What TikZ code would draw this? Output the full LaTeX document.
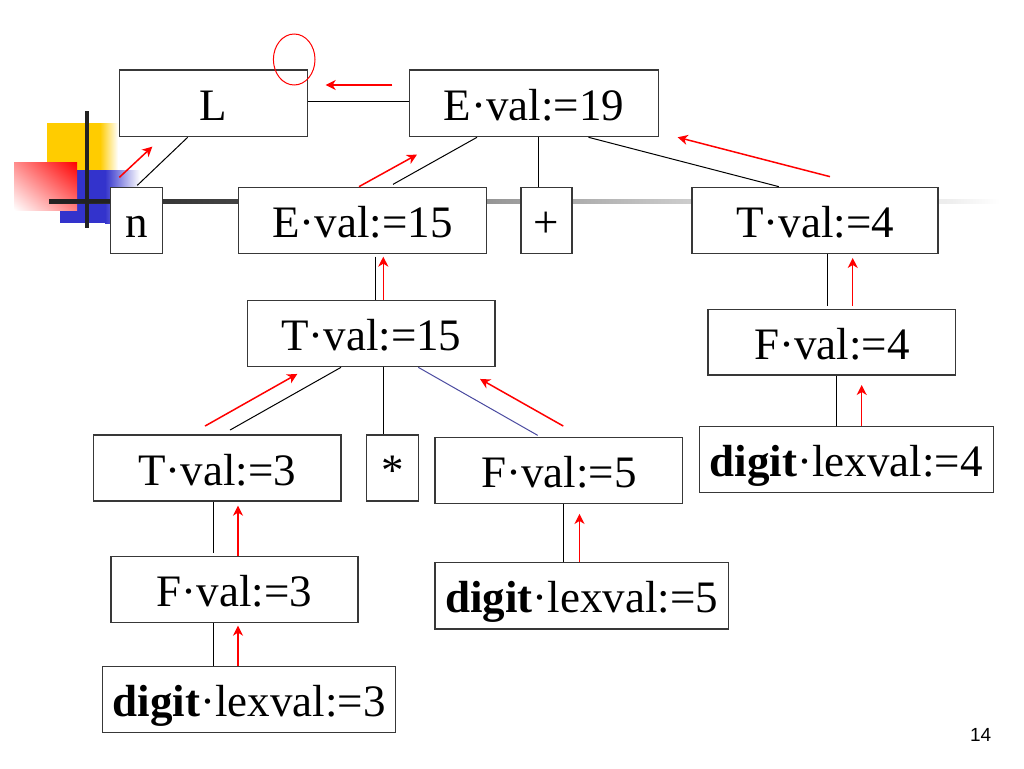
\documentclass[tikz,border=0pt]{standalone}
\usepackage{fontspec}
\setmainfont{Liberation Serif}
\newfontfamily\pagefont{Liberation Sans}
\usetikzlibrary{calc,arrows.meta,shadings}
\definecolor{decoyellow}{HTML}{FFCC00}
\definecolor{decoblue}{HTML}{3333CC}
\definecolor{boxline}{HTML}{383838}
\definecolor{treeblue}{HTML}{4A4AA0}
\definecolor{gA}{HTML}{222222}
\definecolor{gB}{HTML}{444444}
\definecolor{gC}{HTML}{999999}
\definecolor{gD}{HTML}{CFCFCF}
\definecolor{gE}{HTML}{EEEEEE}
\pgfdeclarehorizontalshading{barshade}{100bp}{color(0bp)=(gA); color(25bp)=(gA); color(35bp)=(gB); color(48.7bp)=(gC); color(59.2bp)=(gD); color(72.4bp)=(gE); color(75bp)=(white); color(100bp)=(white)}
\begin{document}
\begin{tikzpicture}[x=1pt,y=-1pt,
  box/.style={draw=boxline, line width=1.3pt, fill=white, inner sep=0pt,
    text height=36pt, text depth=2pt, font=\fontsize{45}{54}\selectfont},
  tree/.style={line width=1pt, black},
  up/.style={red, line width=1.5pt, -{Stealth[length=10pt,width=10pt,inset=3pt]}}]
\useasboundingbox (0,0) rectangle (1024,768);
\fill[white] (0,0) rectangle (1024,768);
% decoration
\fill[decoyellow] (47,123) rectangle (100,176);
\shade[left color=decoyellow, right color=white] (100,123) rectangle (118,176);
\fill[decoblue] (60,170) rectangle (105,223);
\shade[left color=decoblue, right color=white] (105,170) rectangle (140,223);
\shade[upper right=red, upper left=red!45!white, lower right=red!50!white, lower left=white] (14,162) rectangle (77,210);
\shade[shading=barshade] (49,199) rectangle (1000,203);
\fill[gA] (49,199) rectangle (110,203);
\fill[gA] (85,111) rectangle (89,228);
% boxes
\node[box, minimum width=188pt, minimum height=66.7pt] (L) at (213.3,103.3) {L};
\node[box, minimum width=249pt, minimum height=66.7pt] (E19) at (534,103.3) {E·val:=19};
\node[box, minimum width=51.6pt, minimum height=66pt] (n) at (136.5,220.3) {n};
\node[box, minimum width=248.4pt, minimum height=66pt] (E15) at (362.5,220.3) {E·val:=15};
\node[box, minimum width=51pt, minimum height=66pt] (plus) at (546.5,220.3) {+};
\node[box, minimum width=246pt, minimum height=66pt] (T4) at (815,220.3) {T·val:=4};
\node[box, minimum width=247.7pt, minimum height=66pt] (T15) at (371.2,333.7) {T·val:=15};
\node[box, minimum width=247.7pt, minimum height=65.7pt] (F4) at (831.8,342.2) {F·val:=4};
\node[box, minimum width=294pt, minimum height=65.6pt] (dC) at (846.3,459.5) {\textbf{digit}·lexval:=4};
\node[box, minimum width=247.7pt, minimum height=66pt] (T3) at (217.2,468) {T·val:=3};
\node[box, minimum width=51.6pt, minimum height=66pt] (star) at (392.5,468) {*};
\node[box, minimum width=247.6pt, minimum height=66pt] (F5) at (558.8,470.3) {F·val:=5};
\node[box, minimum width=247pt, minimum height=66pt] (F3) at (234.5,589.7) {F·val:=3};
\node[box, minimum width=293.5pt, minimum height=66.3pt] (dB) at (581.7,595.8) {\textbf{digit}·lexval:=5};
\node[box, minimum width=293pt, minimum height=66pt] (dA) at (249.1,699.7) {\textbf{digit}·lexval:=3};
% tree edges
\draw[tree] ($(L.south)+(-25.6,0)$) -- ($(n.north)+(0.8,-1.3)$);
\draw[tree] ($(L.east)+(0,-1.6)$) -- ($(E19.west)+(0,-1.6)$);
\draw[tree] ($(E19.south)+(-57,0)$) -- ($(E15.north)+(30.5,-2.3)$);
\draw[tree] ($(E19.south)+(4.5,0)$) -- ($(plus.north)+(-8,0)$);
\draw[tree] ($(E19.south)+(54.5,0)$) -- ($(T4.north)+(-36.2,0)$);
\draw[tree] ($(E15.south)+(13.2,2.7)$) -- ($(T15.north)+(4.5,0)$);
\draw[tree] ($(T15.south)+(-30.2,0)$) -- ($(T3.north)+(12.8,-4.3)$);
\draw[tree] ($(T15.south)+(12.1,0)$) -- ($(star.north)+(-9.2,0)$);
\draw[tree, treeblue] ($(T15.south)+(47.1,0)$) -- ($(F5.north)+(-21.1,-1.3)$);
\draw[tree] ($(T3.south)+(-3.9,0)$) -- ($(F3.north)+(-21.2,-2.7)$);
\draw[tree] ($(F3.south)+(-21.2,0)$) -- ($(dA.north)+(-35.8,0)$);
\draw[tree] ($(F5.south)+(4.7,0)$) -- ($(dB.north)+(-18.2,0)$);
\draw[tree] ($(T4.south)+(12.7,0)$) -- ($(F4.north)+(-4.1,-2.6)$);
\draw[tree] ($(F4.south)+(4.2,0)$) -- ($(dC.north)+(-10.3,0)$);
% red synthesized-attribute arrows
\draw[up] ($(n.north west)+(9.3,-9.3)$) -- ($(L.south west)+(33.7,9.3)$);
\draw[up] ($(E19.west)+(-16.6,-18.3)$) -- ($(L.east)+(17.7,-18.3)$);
\draw[up] ($(E15.north)+(-3.5,0)$) -- ($(E19.south)+(-117,17.3)$);
\draw[up] ($(T4.north)+(15,-10)$) -- ($(E19.south east)+(18.5,0)$);
\draw[up] ($(T15.north)+(12.1,0)$) -- ($(E15.south)+(20.8,2.7)$);
\draw[up] ($(T3.north)+(-12.2,-8.3)$) -- ($(T15.south)+(-73.9,6.6)$);
\draw[up] ($(F5.north)+(4.5,-10.6)$) -- ($(T15.south)+(108.8,11.6)$);
\draw[up] ($(F3.north)+(3.5,0)$) -- ($(T3.south)+(20.8,4)$);
\draw[up] ($(dA.north)+(-11.1,0)$) -- ($(F3.south)+(3.5,2.3)$);
\draw[up] ($(dB.north)+(-2.2,0)$) -- ($(F5.south)+(20.7,10)$);
\draw[up] ($(F4.north)+(20.9,-2.6)$) -- ($(T4.south)+(37.7,4)$);
\draw[up] ($(dC.north)+(15.4,0)$) -- ($(F4.south)+(29.9,9.3)$);
% red circle
\draw[red, line width=1pt] (294.2,59.5) ellipse [x radius=20.8, y radius=25.5];
% page number
\node[font=\pagefont\fontsize{19}{22}\selectfont, inner sep=0pt] (pg) at (980.7,735) {14};
\end{tikzpicture}
\end{document}
